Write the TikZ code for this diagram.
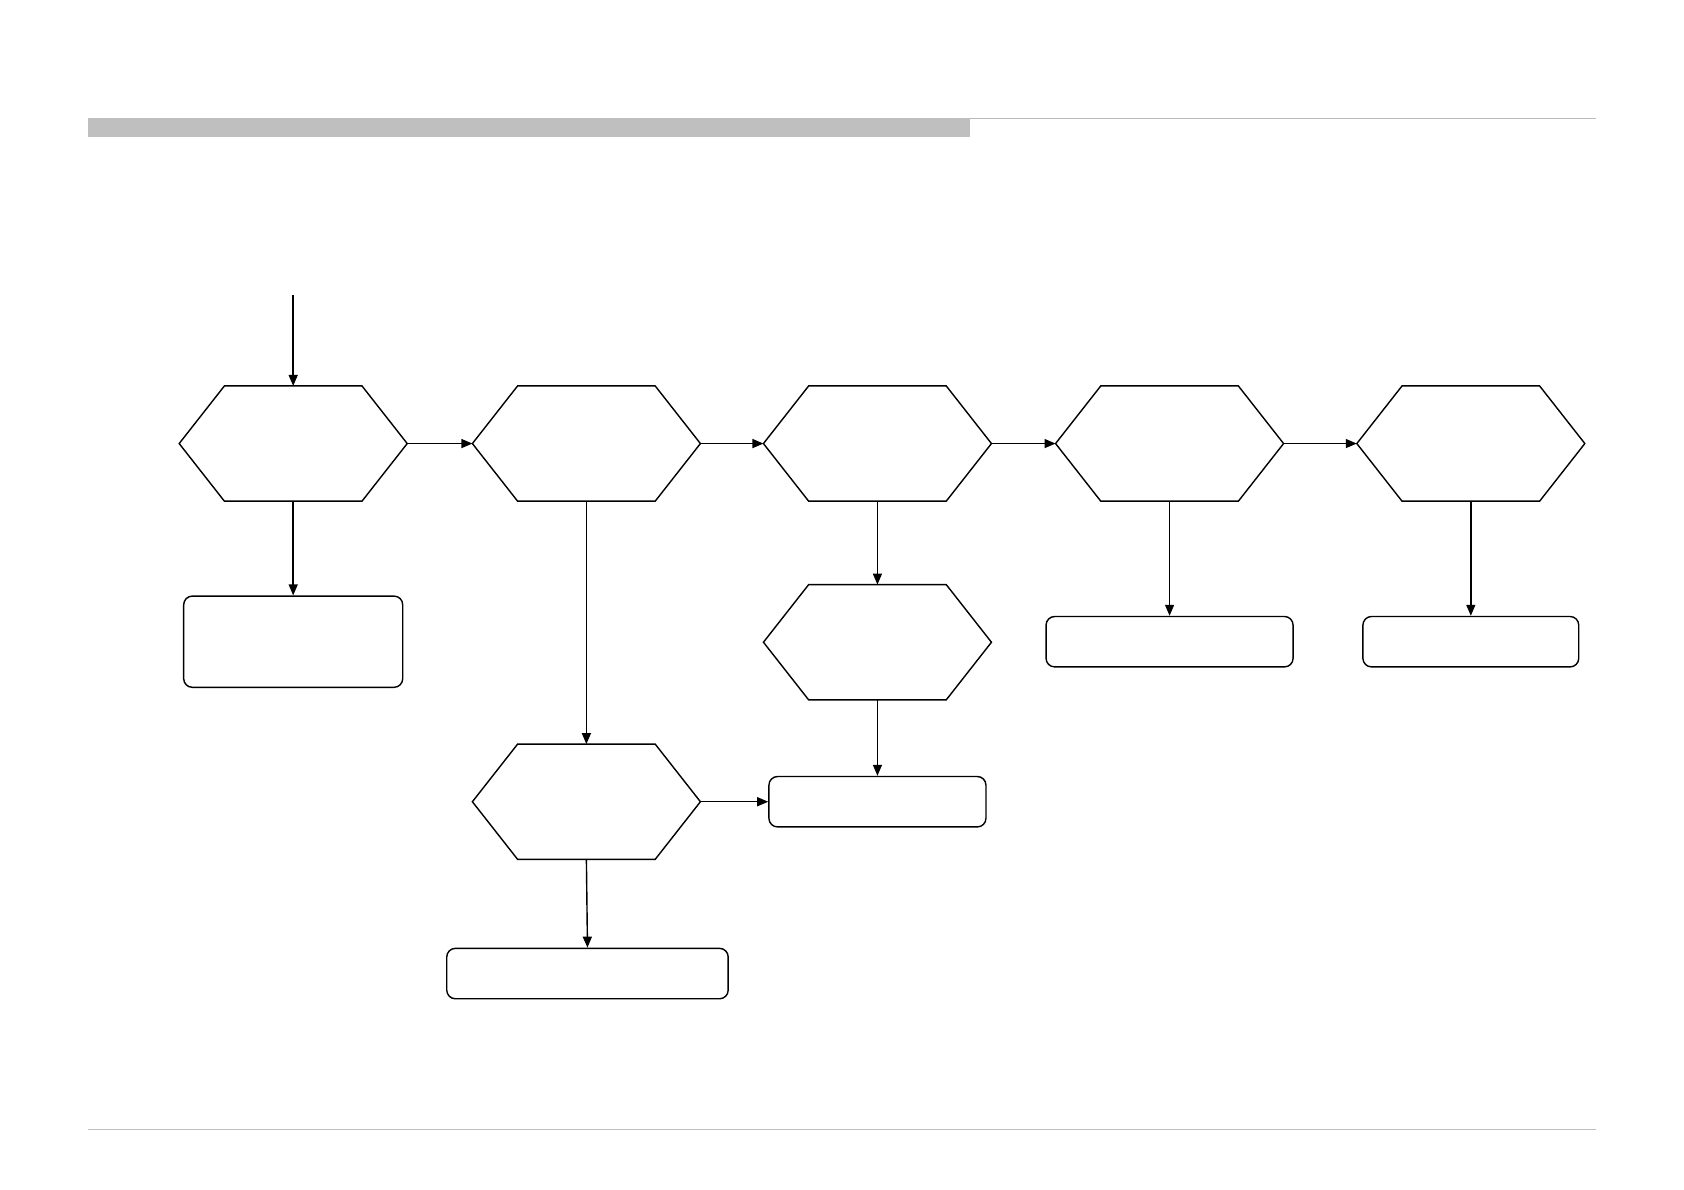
\documentclass[tikz,border=0pt]{standalone}
\usepackage{tikz}
\usetikzlibrary{arrows.meta}

\tikzset{
  hexa/.style={rectangle,inner sep=0pt,minimum width=11.33cm,minimum height=5.69cm},
  boxnode/.style={draw,rounded corners=0.43cm,inner sep=0pt,minimum height=2.52cm},
  flow/.style={-{Triangle[length=0.55cm,width=0.45cm]}},
}

\begin{document}
\begin{tikzpicture}[x=0.0537cm,y=-0.0537cm,line width=2pt]
\useasboundingbox (0,0) rectangle (1568,1108);
% page frame
\fill[gray!50] (82,110) rectangle (903,128);
\draw[gray!55,line width=1.4pt] (903,110)--(1486,110);
\draw[gray!50,line width=1.6pt] (82,1052)--(1486,1052);
% hexagons
\node[hexa] (h1) at (273,413) {};
\node[hexa] (h2) at (546,413) {};
\node[hexa] (h3) at (817,413) {};
\node[hexa] (h4) at (1089,413) {};
\node[hexa] (h5) at (1369.5,413) {};
\node[hexa] (h6) at (817,598) {};
\node[hexa] (h7) at (546,746.5) {};
\foreach \h in {h1,h2,h3,h4,h5,h6,h7}
  \draw[line join=miter] (\h.west)--([xshift=2.26cm]\h.north west)--([xshift=-2.26cm]\h.north east)
    --(\h.east)--([xshift=-2.26cm]\h.south east)--([xshift=2.26cm]\h.south west)--cycle;
% boxes
\node[boxnode,minimum width=10.95cm,minimum height=4.56cm] (b1) at (273,597.5) {};
\node[boxnode,minimum width=12.35cm] (b4) at (1089,597.5) {};
\node[boxnode,minimum width=10.79cm] (b5) at (1369.5,597.5) {};
\node[boxnode,minimum width=10.85cm] (b6) at (817,746.5) {};
\node[boxnode,minimum width=14.07cm] (b7) at (547,906.5) {};
% connectors
\coordinate (start) at (273,275);
\draw[flow] (start)--(h1.north);
\draw[flow] (h1.east)--(h2.west);
\draw[flow] (h2.east)--(h3.west);
\draw[flow] (h3.east)--(h4.west);
\draw[flow] (h4.east)--(h5.west);
\draw[flow] (h1.south)--(b1.north);
\draw[flow] (h2.south)--(h7.north);
\draw[flow] (h3.south)--(h6.north);
\draw[flow] (h4.south)--(b4.north);
\draw[flow] (h5.south)--(b5.north);
\draw[flow] (h6.south)--(b6.north);
\draw[flow] (h7.east)--(b6.west);
\draw[flow] (h7.south)--(b7.north);
\end{tikzpicture}
\end{document}
